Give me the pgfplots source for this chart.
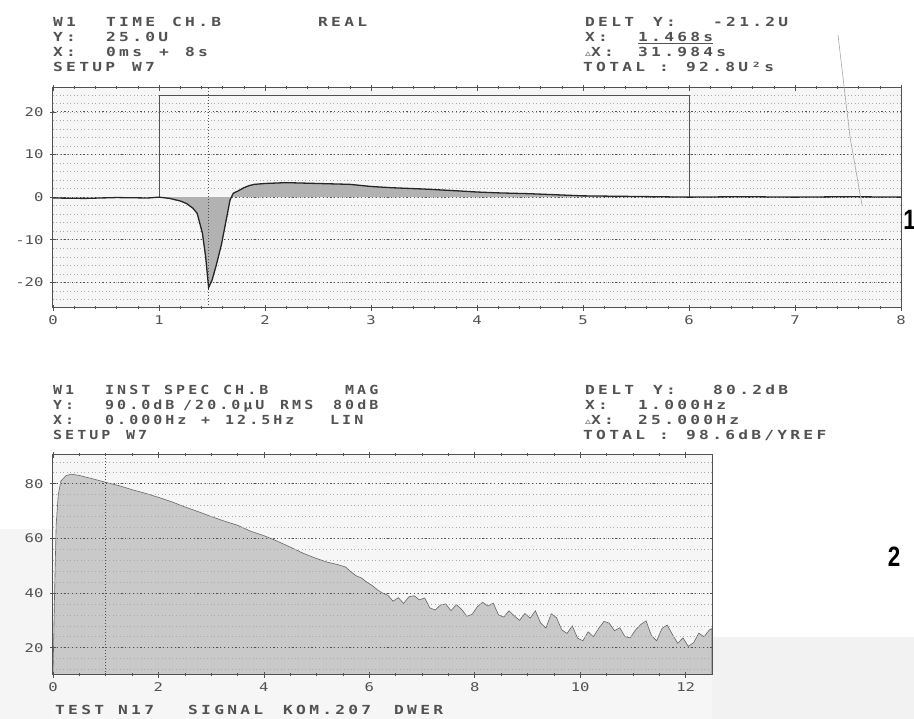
\documentclass[border=0pt]{standalone}
\usepackage{pgfplots}
\pgfplotsset{compat=1.18}
\usepackage{fontspec}
\setmainfont{DejaVu Sans Mono}
\newfontfamily\dm{DejaVu Sans Mono}[LetterSpace=20]
\newfontfamily\dmn{DejaVu Sans Mono}
\newfontfamily\djs{DejaVu Sans}
\newfontfamily\lab{Liberation Sans}
\definecolor{ink}{gray}{0.32}
\newcommand\dmt[1]{\scalebox{1.3}[1]{\fontsize{12.5}{13}\dm\bfseries #1}}
\newcommand\dmb[1]{\scalebox{1.2}[1]{\fontsize{12.5}{13}\dm\bfseries #1}}
\newcommand\sx[1]{\scalebox{1.3}[1]{\fontsize{12}{12}\dmn #1}}
\newcommand\T[3]{\node[anchor=base west,inner sep=0pt,text=ink] at (#1,{719-#2}) {\dmt{#3}};}
\newcommand\B[3]{\node[anchor=base west,inner sep=0pt,text=ink] at (#1,{719-#2}) {\dmb{#3}};}
\begin{document}
\begin{tikzpicture}[x=1pt,y=1pt]
\useasboundingbox (0,0) rectangle (914,719);
% scan shading
\fill[gray!10] (712,0) rectangle (914,82);
\fill[gray!8] (0,0) rectangle (53,190);
\fill[gray!7] (53,0) rectangle (712,44);
% ---------- header top ----------
\T{53}{27}{W1}\T{106}{27}{TIME}\T{172}{27}{CH.B}\T{318}{27}{REAL}
\T{53}{42}{Y:}\T{106}{42}{25.0U}
\T{53}{57}{X:}\T{106}{57}{0ms}\T{159}{57}{+}\T{185}{57}{8s}
\T{53}{72}{SETUP}\T{132}{72}{W7}
\T{585}{27}{DELT}\T{653}{27}{Y:}\T{713}{27}{-21.2U}
\T{585}{42}{X:}\T{638}{42}{\underline{1.468s}}
\T{585}{57}{{\djs\fontsize{9}{9}\selectfont ▵}X:}\T{638}{57}{31.984s}
\T{583}{72}{TOTAL}\T{659}{72}{:}\T{686}{72}{92.8U²s}
% ---------- header bottom ----------
\B{53}{395}{W1}\B{105}{395}{INST}\B{164}{395}{SPEC}\B{223}{395}{CH.B}\B{345}{395}{MAG}
\B{53}{410}{Y:}\B{105}{410}{90.0dB}\B{183}{410}{/20.0µU}\B{280}{410}{RMS}\B{333}{410}{80dB}
\B{53}{425}{X:}\B{105}{425}{0.000Hz}\B{201}{425}{+}\B{225}{425}{12.5Hz}\B{330}{425}{LIN}
\B{53}{440}{SETUP}\B{126}{440}{W7}
\T{585}{395}{DELT}\T{653}{395}{Y:}\T{713}{395}{80.2dB}
\T{585}{410}{X:}\T{638}{410}{1.000Hz}
\T{585}{425}{{\djs\fontsize{9}{9}\selectfont ▵}X:}\T{638}{425}{25.000Hz}
\T{583}{440}{TOTAL}\T{659}{440}{:}\T{686}{440}{98.6dB/YREF}
% footer
\T{55}{715}{TEST}\T{118}{715}{N17}\T{188}{715}{SIGNAL}\T{283}{715}{KOM.207}\T{394}{715}{DWER}
% big labels
\node[text=black,inner sep=0pt,anchor=east] at (916,{719-220}) {\scalebox{0.8}[1]{\fontsize{28}{28}\lab\bfseries 1}};
\node[text=black,inner sep=0pt] at (894,{719-557}) {\scalebox{0.8}[1]{\fontsize{28}{28}\lab\bfseries 2}};
% ---------- top axis ----------
\begin{axis}[
  at={(53pt,411pt)}, anchor=south west, scale only axis,
  width=848pt, height=220pt,
  xmin=0, xmax=8, ymin=-26, ymax=25.6,
  axis background/.style={fill=gray!7},
  xtick={0,...,8}, xticklabels={\sx{0},\sx{1},\sx{2},\sx{3},\sx{4},\sx{5},\sx{6},\sx{7},\sx{8}},
  ytick={-20,-10,0,10,20}, yticklabels={\sx{-20},\sx{-10},\sx{0},\sx{10},\sx{20}},
  minor x tick num=4, minor ytick={-24,-22,...,24},
  ymajorgrids, yminorgrids,
  major grid style={ink, line width=0.8pt, dash pattern=on 1.2pt off 2.6pt},
  minor grid style={gray!65, line width=0.6pt, dash pattern=on 1pt off 2.5pt},
  minor y tick style={draw=none},
  tick align=center, major tick length=6pt, minor tick length=3pt,
  tick style={ink, line width=0.6pt},
  axis line style={ink, line width=1pt},
  xtick pos=both, ytick pos=left,
  ticklabel style={text=ink},
  xticklabel style={yshift=-1pt},
  yticklabel style={xshift=-3pt},
]
\addplot[draw=none, fill=gray!60] coordinates {
(1.00,0) (1.10,-0.3) (1.20,-0.9) (1.26,-1.5) (1.32,-2.6) (1.36,-3.8) (1.41,-8.5)
(1.44,-14) (1.468,-21.2) (1.50,-19.5) (1.54,-16) (1.59,-11) (1.64,-4.6) (1.67,-0.7)
(1.70,0.9) (1.75,1.5) (1.80,2.2) (1.85,2.7) (1.90,3.0)
(2.0,3.2) (2.2,3.4) (2.5,3.2) (2.8,3.0) (3.0,2.5) (3.2,2.2) (3.5,1.9) (3.8,1.5)
(4.0,1.2) (4.2,1.0) (4.5,0.8) (5.0,0.3) (5.5,0.15) (6.0,0)
} \closedcycle;
\addplot[ink, line width=0.8pt] coordinates {(1,0) (1,23.9) (6,23.9) (6,0)};
\addplot[ink, line width=0.6pt, dash pattern=on 1pt off 2pt] coordinates {(1.468,-26) (1.468,25.6)};
\addplot[black!85, line width=1.3pt] coordinates {
(0,-0.2) (0.3,-0.3) (0.6,-0.1) (0.9,-0.2) (1.00,0) (1.10,-0.3) (1.20,-0.9) (1.26,-1.5)
(1.32,-2.6) (1.36,-3.8) (1.41,-8.5) (1.44,-14) (1.468,-21.2) (1.50,-19.5) (1.54,-16)
(1.59,-11) (1.64,-4.6) (1.67,-0.7) (1.70,0.9) (1.75,1.5)
(1.80,2.2) (1.85,2.7) (1.90,3.0) (2.0,3.2) (2.2,3.4) (2.5,3.2) (2.8,3.0) (3.0,2.5)
(3.2,2.2) (3.5,1.9) (3.8,1.5) (4.0,1.2) (4.2,1.0) (4.5,0.8) (5.0,0.3) (5.5,0.15)
(6.0,0) (6.5,0.1) (7.0,0.0) (7.5,0.1) (8.0,0)
};
\node[text=ink,anchor=south,inner sep=0pt] at (axis cs:1.468,25.6) {\djs\fontsize{10}{10}\selectfont ↓};
\end{axis}
% ---------- bottom axis ----------
\begin{axis}[
  at={(53pt,44pt)}, anchor=south west, scale only axis,
  width=659pt, height=220pt,
  xmin=0, xmax=12.5, ymin=10, ymax=90.5,
  axis background/.style={fill=gray!7},
  xtick={0,2,...,12}, xticklabels={\sx{0},\sx{2},\sx{4},\sx{6},\sx{8},\sx{10},\sx{12}},
  ytick={20,40,60,80}, yticklabels={\sx{20},\sx{40},\sx{60},\sx{80}},
  minor x tick num=3, minor ytick={12,16,...,88},
  ymajorgrids, yminorgrids,
  major grid style={ink, line width=0.8pt, dash pattern=on 1.2pt off 2.6pt},
  minor grid style={gray!65, line width=0.6pt, dash pattern=on 1pt off 2.5pt},
  minor y tick style={draw=none},
  tick align=center, major tick length=6pt, minor tick length=3pt,
  tick style={ink, line width=0.6pt},
  axis line style={ink, line width=1pt},
  xtick pos=both, ytick pos=left,
  ticklabel style={text=ink},
  xticklabel style={yshift=-1pt},
  yticklabel style={xshift=-3pt},
  axis on top,
]
\addplot[fill=gray!42, draw=black!60, line width=0.6pt] coordinates {
(0.00,10) (0.03,40) (0.06,65) (0.10,76) (0.15,81) (0.25,83) (0.35,83.5) (0.50,83)
(0.75,81.8) (1.00,80.5) (1.25,79.3) (1.50,77.8) (1.75,76.5) (2.00,75.0) (2.25,73.4)
(2.50,71.5) (2.75,69.8) (3.00,68.0) (3.25,66.3) (3.50,64.8) (3.75,62.6) (4.00,61.0)
(4.25,59.0) (4.50,56.8) (4.75,54.5) (5.00,52.6) (5.20,51.3) (5.40,50.4) (5.55,49.5)
(5.65,47.8) (5.75,46.3) (5.85,45.5) (5.95,44.0) (6.05,42.8) (6.15,41.2) (6.25,40.0)
(6.35,39.2) (6.45,37.0) (6.55,38.3) (6.65,36.2) (6.75,38.6) (6.85,39.0) (6.95,37.5)
(7.05,38.2) (7.15,34.5) (7.25,33.8) (7.35,35.6) (7.45,36.0) (7.55,33.5) (7.65,35.8)
(7.75,34.0) (7.85,31.5) (7.95,32.2) (8.05,35.0) (8.15,36.6) (8.25,35.2) (8.35,36.3)
(8.45,32.0) (8.55,31.2) (8.65,33.5) (8.75,31.6) (8.85,30.0) (8.95,32.5) (9.05,30.8)
(9.15,33.5) (9.25,29.0) (9.35,27.2) (9.45,32.4) (9.55,31.0) (9.65,26.5) (9.75,25.2)
(9.85,28.0) (9.95,23.5) (10.05,22.5) (10.15,25.8) (10.25,24.0) (10.35,27.0) (10.45,29.6)
(10.55,29.0) (10.65,26.2) (10.75,27.3) (10.85,24.0) (10.95,23.6) (11.05,26.5) (11.15,28.5)
(11.25,29.8) (11.35,24.5) (11.45,22.5) (11.55,27.0) (11.65,28.3) (11.75,24.8) (11.85,21.6)
(11.95,23.6) (12.05,20.5) (12.15,21.8) (12.25,25.3) (12.35,24.0) (12.45,26.5) (12.50,27.0)
} \closedcycle;
\addplot[ink, line width=0.6pt, dash pattern=on 1pt off 2pt] coordinates {(1,10) (1,90.5)};
\node[text=ink,anchor=south,inner sep=0pt] at (axis cs:1,90.5) {\djs\fontsize{10}{10}\selectfont ↓};
\end{axis}
% pen stroke artifact over the plot
\draw[gray!70,line width=0.6pt] (838,{719-35}) -- (850,{719-137}) -- (862,{719-205});
\end{tikzpicture}
\end{document}
